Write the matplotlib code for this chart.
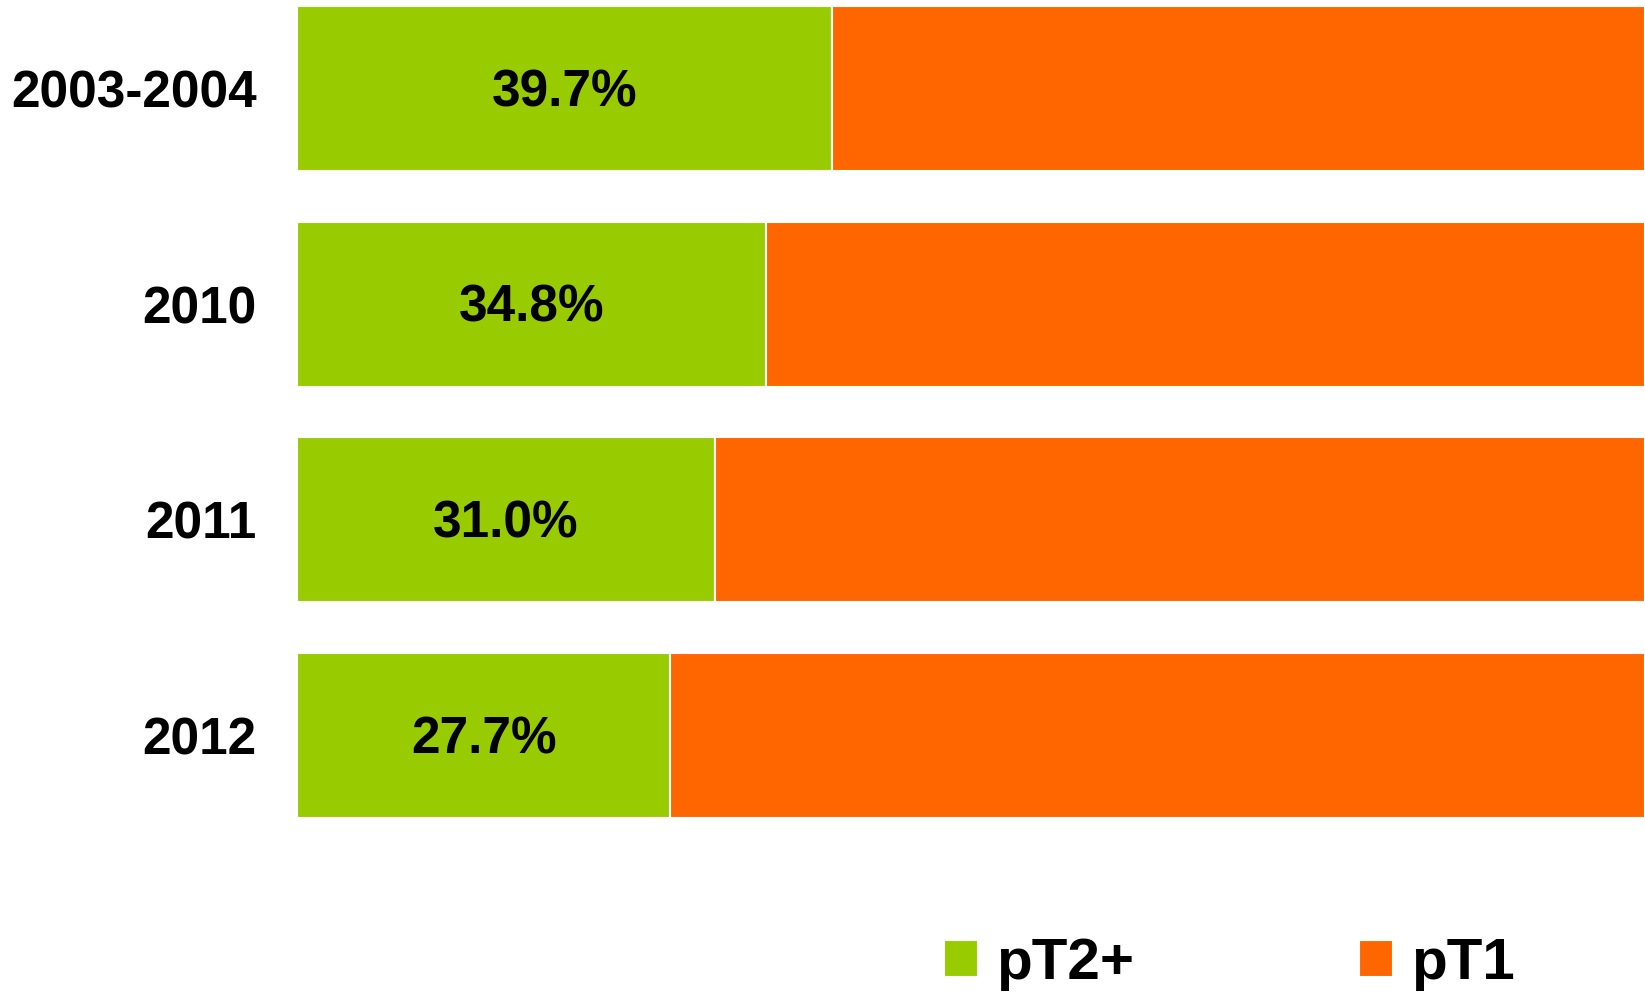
import matplotlib
matplotlib.use("Agg")
import matplotlib.pyplot as plt

categories = ["2003-2004", "2010", "2011", "2012"]
pt2_values = [39.7, 34.8, 31.0, 27.7]
pt1_values = [60.3, 65.2, 69.0, 72.3]
value_labels = ["39.7%", "34.8%", "31.0%", "27.7%"]
series_names = ["pT2+", "pT1"]

GREEN = "#99CC00"
ORANGE = "#FF6600"

plt.rcParams['font.family'] = ['Liberation Sans', 'DejaVu Sans']

fig = plt.figure(figsize=(16.45, 9.92), dpi=100)
ax = fig.add_axes([297/1645, 1 - 843.5/992, 1 - 297/1645, 843.5/992])

y = list(range(len(categories)))
h = 0.765
b1 = ax.barh(y, pt2_values, height=h, color=GREEN, edgecolor="white", linewidth=1.5, label=series_names[0])
b2 = ax.barh(y, pt1_values, left=pt2_values, height=h, color=ORANGE, edgecolor="white", linewidth=1.5, label=series_names[1])

for yi, v, lab in zip(y, pt2_values, value_labels):
    ax.text(v / 2, yi + 0.02, lab, ha="center", va="center", fontsize=37, fontweight="bold", color="black")

ax.set_xlim(0, 100)
ax.set_ylim(3.5, -0.41)
ax.set_yticks(y)
ax.set_yticklabels(categories, fontsize=37, fontweight="bold")
ax.tick_params(axis="y", length=0, pad=29)
ax.set_xticks([])
for s in ax.spines.values():
    s.set_visible(False)

leg = fig.legend(handles=[b1, b2], labels=series_names, ncol=2, loc="center left",
                 bbox_to_anchor=(944/1645, 1 - 964/992), frameon=False,
                 prop={"size": 42, "weight": "bold"}, handlelength=0.583, handleheight=0.583,
                 handletextpad=0.31, columnspacing=3.86, borderpad=0, borderaxespad=0)

fig.savefig("out.png", dpi=100)
